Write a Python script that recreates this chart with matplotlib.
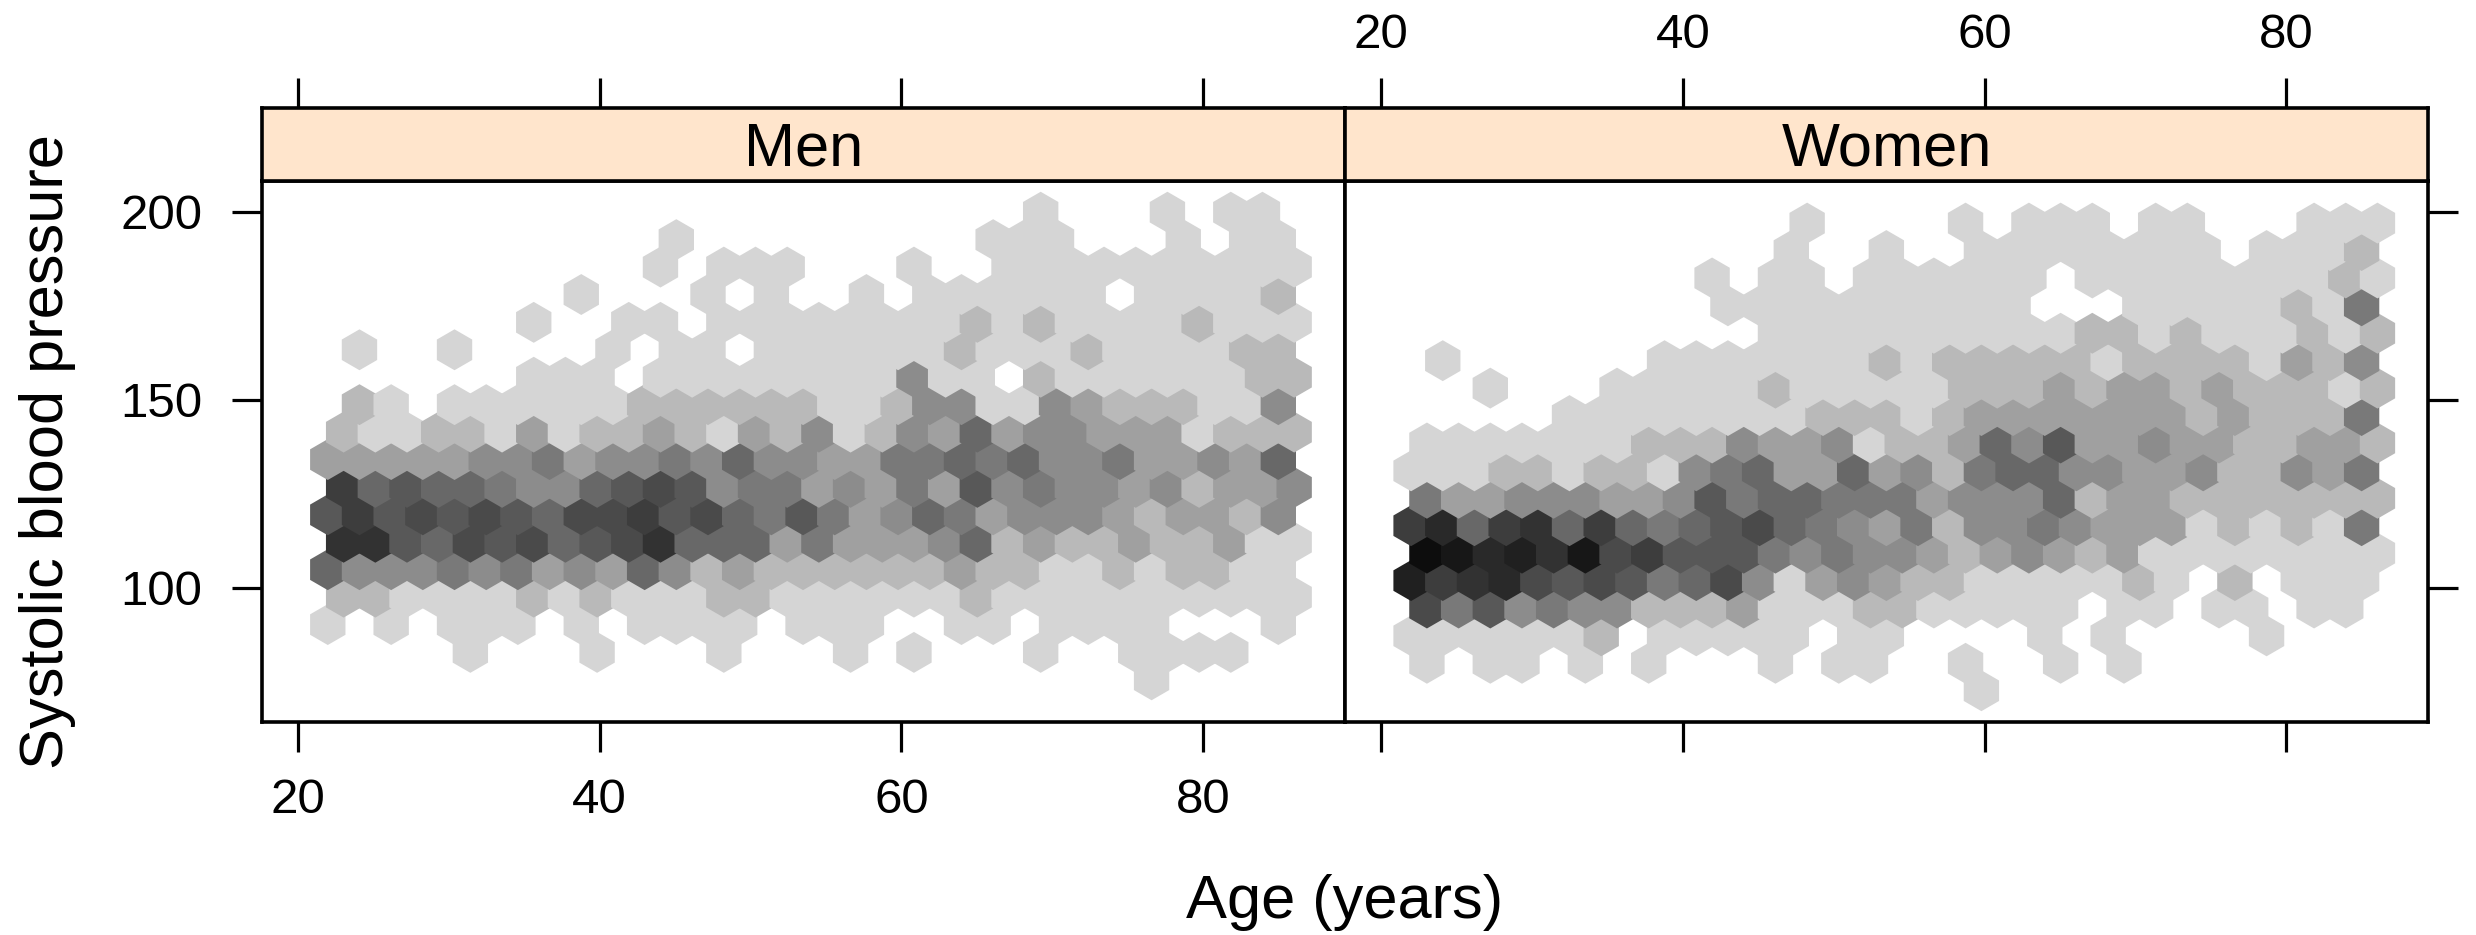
import numpy as np
import matplotlib
matplotlib.use("Agg")
import matplotlib.pyplot as plt
from matplotlib.collections import PolyCollection

plt.rcParams['font.family'] = ['Liberation Sans', 'DejaVu Sans']

# Hexagon column centres (years); rows alternate between the two offsets
ages_offset = [23.03, 25.13, 27.23, 29.33, 31.43, 33.53, 35.63, 37.73, 39.83, 41.93, 44.03,
               46.13, 48.23, 50.33, 52.43, 54.53, 56.63, 58.73, 60.83, 62.93, 65.03,
               67.13, 69.23, 71.33, 73.43, 75.53, 77.63, 79.73, 81.83, 83.93, 86.03]
ages_base = [21.98, 24.08, 26.18, 28.28, 30.38, 32.48, 34.58, 36.68, 38.78, 40.88, 42.98,
             45.08, 47.18, 49.28, 51.38, 53.48, 55.58, 57.68, 59.78, 61.88, 63.98,
             66.08, 68.18, 70.28, 72.38, 74.48, 76.58, 78.68, 80.78, 82.88, 84.98]

# Hexagon row centres (systolic blood pressure), top to bottom
men_bp = [199.9, 192.6, 185.3, 178.0, 170.6, 163.3, 156.0, 148.7, 141.4,
          134.1, 126.7, 119.4, 112.1, 104.8, 97.5, 90.2, 82.8, 75.5]
women_bp = [197.0, 189.7, 182.4, 175.0, 167.7, 160.4, 153.1, 145.8, 138.5,
            131.1, 123.8, 116.5, 109.2, 101.9, 94.6, 87.2, 79.9, 72.6]

# Count class of each hexagon (0 = empty); rows top to bottom, columns left to right
men_counts = [
    [0,0,0,0,0, 0,0,0,0,0, 0,0,0,0,0, 0,0,0,0,0, 0,0,1,0,0, 0,1,0,1,1, 0],
    [0,0,0,0,0, 0,0,0,0,0, 0,1,0,0,0, 0,0,0,0,0, 0,1,1,1,0, 0,0,1,0,1, 1],
    [0,0,0,0,0, 0,0,0,0,0, 1,0,1,1,1, 0,0,0,1,0, 0,1,1,1,1, 1,1,1,1,1, 1],
    [0,0,0,0,0, 0,0,0,1,0, 0,0,1,0,1, 0,0,1,0,1, 1,1,1,1,1, 0,1,1,1,1, 2],
    [0,0,0,0,0, 0,1,0,0,1, 1,0,1,1,1, 1,1,1,1,1, 2,1,2,1,1, 1,1,2,1,1, 1],
    [0,1,0,0,1, 0,0,0,0,1, 0,1,1,0,1, 1,1,1,1,1, 2,1,1,1,2, 1,1,1,1,2, 2],
    [0,0,0,0,0, 0,1,1,1,0, 1,1,1,1,1, 1,1,1,4,1, 1,0,2,1,1, 1,1,1,1,2, 2],
    [0,2,1,0,1, 1,1,1,1,1, 2,2,2,2,2, 2,1,1,2,4, 4,1,1,4,3, 2,2,2,1,1, 4],
    [2,1,1,2,2, 1,3,1,2,2, 3,2,1,3,2, 4,1,2,4,3, 6,3,4,4,3, 3,3,1,2,2, 2],
    [3,3,3,3,3, 4,4,5,3,4, 4,5,4,6,4, 4,3,3,5,5, 6,5,6,4,4, 5,3,3,4,3, 6],
    [9,6,7,6,6, 5,4,4,6,7, 8,7,4,5,5, 3,4,3,5,3, 7,4,5,4,4, 3,4,2,3,3, 4],
    [7,9,7,8,7, 8,7,6,8,8, 9,7,8,6,5, 7,5,3,4,6, 5,3,4,4,4, 3,2,3,3,2, 4],
    [10,10,7,6,8, 7,8,6,7,8, 10,6,6,6,3, 5,3,3,3,4, 6,2,3,2,2, 3,2,2,3,1, 1],
    [6,4,4,4,5, 4,5,3,4,3, 6,4,2,3,2, 2,2,2,2,2, 3,2,2,1,1, 2,1,2,2,1, 1],
    [2,2,1,1,1, 1,2,1,2,1, 1,1,2,2,1, 1,1,1,1,1, 2,1,1,1,1, 1,1,1,1,1, 1],
    [1,0,1,0,1, 1,1,0,1,0, 1,1,1,1,0, 1,1,1,0,0, 1,1,0,1,1, 1,1,0,0,0, 1],
    [0,0,0,0,1, 0,0,0,1,0, 0,0,1,0,0, 0,1,0,1,0, 0,0,1,0,0, 1,1,1,1,0, 0],
    [0,0,0,0,0, 0,0,0,0,0, 0,0,0,0,0, 0,0,0,0,0, 0,0,0,0,0, 0,1,0,0,0, 0],
]
women_counts = [
    [0,0,0,0,0, 0,0,0,0,0, 0,0,1,0,0, 0,0,1,0,1, 1,1,0,1,1, 0,0,0,1,1, 1],
    [0,0,0,0,0, 0,0,0,0,0, 0,0,1,0,0, 1,0,0,1,1, 1,1,1,1,1, 1,0,1,1,1, 2],
    [0,0,0,0,0, 0,0,0,0,1, 0,1,1,0,1, 1,1,1,1,1, 0,1,1,1,1, 1,1,1,1,2, 1],
    [0,0,0,0,0, 0,0,0,0,0, 1,1,1,1,1, 1,1,1,1,1, 0,0,0,1,1, 1,1,1,2,1, 5],
    [0,0,0,0,0, 0,0,0,0,0, 0,1,1,1,1, 1,1,1,1,1, 1,2,2,1,2, 1,1,1,2,1, 2],
    [0,1,0,0,0, 0,0,0,1,1, 1,1,1,1,1, 2,1,2,2,2, 2,2,1,2,2, 2,2,1,3,2, 4],
    [0,0,1,0,0, 0,1,1,1,1, 1,2,1,1,1, 1,1,2,2,2, 3,2,3,3,2, 3,2,2,2,1, 2],
    [0,0,0,0,0, 1,1,1,1,1, 1,1,1,2,2, 2,1,2,3,3, 3,3,3,3,3, 2,3,2,2,2, 5],
    [1,1,1,1,1, 1,1,2,2,2, 4,3,3,4,1, 2,2,3,6,4, 7,3,3,4,3, 3,2,2,3,3, 2],
    [1,1,1,2,2, 1,2,2,1,4, 5,6,3,3,6, 3,4,2,5,6, 6,4,4,3,3, 4,2,2,4,3, 5],
    [5,3,3,4,4, 4,3,3,4,7, 5,6,6,5,5, 5,3,4,4,4, 6,2,3,3,2, 2,2,2,2,2, 2],
    [9,11,6,9,10, 6,9,6,5,6, 7,8,6,5,4, 3,5,2,4,4, 5,4,3,3,3, 1,2,1,2,1, 5],
    [14,13,11,12,10, 13,8,9,7,7, 7,5,4,5,4, 4,3,2,3,4, 3,2,3,1,1, 1,1,1,1,1, 1],
    [12,9,10,11,8, 7,8,7,5,6, 8,4,1,3,4, 3,2,2,1,1, 1,1,1,2,1, 0,2,0,1,1, 1],
    [8,5,7,4,5, 4,4,2,2,2, 3,1,1,1,2, 2,1,1,1,1, 1,0,1,1,0, 1,1,0,1,1, 0],
    [1,1,1,1,1, 1,2,0,1,1, 1,1,1,0,1, 1,0,0,0,0, 1,0,1,0,0, 0,0,1,0,0, 0],
    [1,0,1,1,0, 1,0,1,0,0, 0,1,0,1,1, 0,0,1,0,0, 1,0,1,0,0, 0,0,0,0,0, 0],
    [0,0,0,0,0, 0,0,0,0,0, 0,0,0,0,0, 0,0,0,1,0, 0,0,0,0,0, 0,0,0,0,0, 0],
]

panel_names = ["Men", "Women"]
x_ticks = [20, 40, 60, 80]
y_ticks = [100, 150, 200]
x_label = "Age (years)"
y_label = "Systolic blood pressure"

# Style
grey_of_count = ['#ffffff', '#d5d5d5', '#b9b9b9', '#a0a0a0', '#8c8c8c', '#797979', '#686868',
                 '#585858', '#4a4a4a', '#3d3d3d', '#323232', '#292929', '#202020', '#171717', '#0d0d0d']
STRIP = '#ffe5cc'
W, H = 2476, 935
L, MID, R = 261.7, 1345.0, 2428.3
TOP, STRIP_BOT, BOT = 107.7, 181.0, 722.3
XLIM = (17.6, 89.4)
YLIM = (64.2, 208.2)
HALF_W = 1.05      # half the column spacing, years
HEX_R = 4.875      # centre-to-tip, mmHg
LW_FRAME = 2.6
LW_TICK = 2.3
TICK_LEN = 21.6
FS_TICK = 35.5
FS_LABEL = 44.2

hex_dx = np.array([0, 1, 1, 0, -1, -1]) * HALF_W
hex_dy = np.array([1, .5, -.5, -1, -.5, .5]) * HEX_R


def add_hexes(ax, bp, counts):
    verts, colours = [], []
    # lowest row first, so that upper rows lie over lower ones, as in the reference
    for i in range(len(bp) - 1, -1, -1):
        ages = ages_offset if i % 2 == 0 else ages_base
        for age, c in zip(ages, counts[i]):
            if c:
                verts.append(np.column_stack([age + hex_dx, bp[i] + hex_dy]))
                colours.append(grey_of_count[c])
    ax.add_collection(PolyCollection(verts, facecolors=colours, edgecolors=colours,
                                     linewidths=2.65, joinstyle='miter', zorder=2))


def axes_px(fig, x0, x1, y_top, y_bot):
    return fig.add_axes([x0 / W, 1 - y_bot / H, (x1 - x0) / W, (y_bot - y_top) / H])


fig = plt.figure(figsize=(W / 100, H / 100), dpi=100, facecolor='white')

spans = [(L, MID), (MID, R)]
data = [(men_bp, men_counts), (women_bp, women_counts)]
for j, ((x0, x1), (bp, counts), name) in enumerate(zip(spans, data, panel_names)):
    ax = axes_px(fig, x0, x1, STRIP_BOT, BOT)
    ax.set_xlim(XLIM)
    ax.set_ylim(YLIM)
    add_hexes(ax, bp, counts)
    ax.set_xticks(x_ticks)
    ax.set_yticks(y_ticks)
    ax.tick_params(axis='x', which='major', direction='out', length=TICK_LEN, width=LW_TICK,
                   labelsize=FS_TICK, pad=18.5, labelbottom=(j == 0))
    ax.tick_params(axis='y', which='major', direction='out', length=TICK_LEN, width=LW_TICK,
                   labelsize=FS_TICK, pad=21,
                   left=(j == 0), labelleft=(j == 0), right=(j == 1), labelright=False)

    st = axes_px(fig, x0, x1, TOP, STRIP_BOT)
    st.set_facecolor(STRIP)
    st.set_xlim(XLIM)
    st.set_ylim(0, 1)
    st.set_yticks([])
    st.set_xticks(x_ticks)
    st.tick_params(axis='x', which='major', direction='out', length=TICK_LEN, width=LW_TICK,
                   labelsize=FS_TICK, pad=14, top=True, bottom=False,
                   labeltop=(j == 1), labelbottom=False)
    st.text(0.5, 0.42, name, transform=st.transAxes, ha='center', va='center', fontsize=FS_LABEL)

    for a in (ax, st):
        for s in a.spines.values():
            s.set_linewidth(LW_FRAME)

fig.text(1344.5 / W, 1 - 918 / H, x_label, ha='center', va='baseline', fontsize=FS_LABEL)
fig.text(63 / W, 1 - 451.5 / H, y_label, ha='center', va='baseline', rotation=90,
         rotation_mode='anchor', fontsize=FS_LABEL)

fig.savefig('out.png', dpi=100, facecolor='white')
